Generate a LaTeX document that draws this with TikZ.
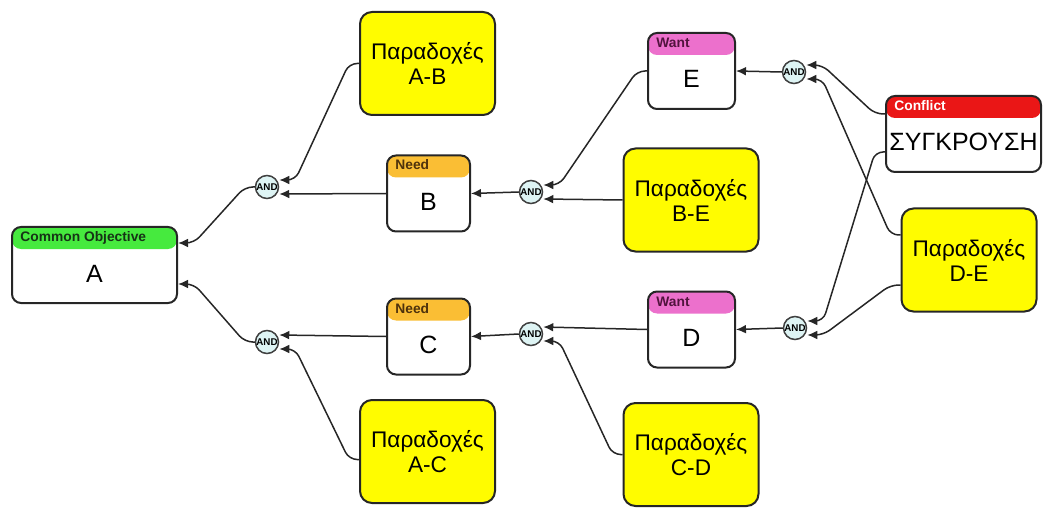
\documentclass[tikz,border=0pt]{standalone}
\usepackage{fontspec}
\setmainfont{Liberation Sans}
\usetikzlibrary{arrows.meta}
\definecolor{objgreen}{RGB}{70,234,62}
\definecolor{objtext}{RGB}{22,52,22}
\definecolor{needorange}{RGB}{250,190,52}
\definecolor{needtext}{RGB}{78,50,12}
\definecolor{wantpink}{RGB}{236,112,204}
\definecolor{wanttext}{RGB}{82,20,62}
\definecolor{conflictred}{RGB}{234,22,22}
\definecolor{premyellow}{RGB}{255,252,0}
\definecolor{gatecyan}{RGB}{222,244,244}
\tikzset{card/.style={draw=black!85,line width=1pt,rounded corners=4.5pt,fill=white,
  minimum height=38pt,text height=17pt,text depth=0pt,inner sep=0pt,
  font=\fontsize{12.5}{14}\selectfont},
  head/.style n args={3}{path picture={\fill[#1] (path picture bounding box.north west)
    rectangle ([yshift=-11pt]path picture bounding box.north east);},
    label={[headlabel,text=#2]north west:#3}},
  headlabel/.style={anchor=west,xshift=3.5pt,yshift=-5.5pt,inner sep=1pt,
    text height=5pt,text depth=0.5pt,font=\bfseries\fontsize{6.9}{7}\selectfont},
  premise/.style={draw=black!85,line width=1pt,rounded corners=6pt,fill=premyellow,
    minimum width=67.5pt,minimum height=51.5pt,align=center,
    font=\fontsize{11.3}{12.5}\selectfont},
  gate/.style={circle,draw=black!75,line width=0.75pt,fill=gatecyan,minimum size=11.5pt,
    inner sep=0pt,font=\bfseries\fontsize{4.9}{5}\selectfont},
  link/.style={draw=black!85,line width=0.75pt,rounded corners=4pt,
    -{Latex[length=5pt,width=4.4pt]}}}

\begin{document}
\begin{tikzpicture}[x=0.5pt,y=-0.5pt]
\useasboundingbox (0,0) rectangle (1043,513);
% entities
\node[card,head={objgreen}{objtext}{Common Objective},minimum width=82.5pt] (a) at (94.5,265) {A};
\node[card,head={needorange}{needtext}{Need},minimum width=41.5pt] (b) at (428.5,193.5) {B};
\node[card,head={needorange}{needtext}{Need},minimum width=41.5pt] (c) at (428.5,336.5) {C};
\node[card,head={wantpink}{wanttext}{Want},minimum width=43.5pt] (e) at (691.5,71) {E};
\node[card,head={wantpink}{wanttext}{Want},minimum width=43.5pt] (d) at (691.5,329.5) {D};
\node[card,head={conflictred}{white}{Conflict},minimum width=77.5pt] (conflict) at (963.5,134) {ΣΥΓΚΡΟΥΣΗ};
% assumptions
\node[premise] (ab) at (427.5,63.5) {Παραδοχές\\A-B};
\node[premise] (ac) at (427.5,451.5) {Παραδοχές\\A-C};
\node[premise] (be) at (691,200) {Παραδοχές\\B-E};
\node[premise] (cd) at (691,454.5) {Παραδοχές\\C-D};
\node[premise] (de) at (969,260) {Παραδοχές\\D-E};
% AND gates
\node[gate] (and1) at (267,187) {AND};
\node[gate] (and2) at (531,192) {AND};
\node[gate] (and3) at (794,72) {AND};
\node[gate] (and4) at (795,328) {AND};
\node[gate] (and5) at (531,334) {AND};
\node[gate] (and6) at (267,342) {AND};
% left half
\draw[link] (ab.west) -- ++(-5pt,0) -- ([xshift=8pt,yshift=3.5pt]and1.east) -- ([yshift=3.5pt]and1.east);
\draw[link] (b.west) -- ([yshift=-3.5pt]and1.east);
\draw[link] (and1.west) -- ++(-5pt,0) -- ([xshift=8pt,yshift=11pt]a.east) -- ([yshift=11pt]a.east);
\draw[link] (c.west) -- ([yshift=3.5pt]and6.east);
\draw[link] ([yshift=-4pt]ac.west) -- ++(-5pt,0) -- ([xshift=8pt,yshift=-3.5pt]and6.east) -- ([yshift=-3.5pt]and6.east);
\draw[link] (and6.west) -- ++(-5pt,0) -- ([xshift=8pt,yshift=-9.5pt]a.east) -- ([yshift=-9.5pt]a.east);
% middle
\draw[link] (e.west) -- ++(-5pt,0) -- ([xshift=8pt,yshift=3.5pt]and2.east) -- ([yshift=3.5pt]and2.east);
\draw[link] (be.west) -- ([yshift=-3.5pt]and2.east);
\draw[link] (and2.west) -- (b.east);
\draw[link] (d.west) -- ([yshift=3.5pt]and5.east);
\draw[link] (cd.west) -- ++(-5pt,0) -- ([xshift=8pt,yshift=-3.5pt]and5.east) -- ([yshift=-3.5pt]and5.east);
\draw[link] (and5.west) -- (c.east);
% right half
\draw[link] (and3.west) -- (e.east);
\draw[link] (and4.west) -- (d.east);
\draw[link] ([yshift=10pt]conflict.west) -- ++(-5pt,0) -- ([xshift=8pt,yshift=3.5pt]and3.east) -- ([yshift=3.5pt]and3.east);
\draw[link] ([yshift=12.5pt]de.west) -- ++(-5pt,0) -- ([xshift=8pt,yshift=-3.5pt]and3.east) -- ([yshift=-3.5pt]and3.east);
\draw[link] ([yshift=-9pt]conflict.west) -- ++(-5pt,0) -- ([xshift=8pt,yshift=3.5pt]and4.east) -- ([yshift=3.5pt]and4.east);
\draw[link] ([yshift=-12.5pt]de.west) -- ++(-5pt,0) -- ([xshift=8pt,yshift=-3.5pt]and4.east) -- ([yshift=-3.5pt]and4.east);
\end{tikzpicture}
\end{document}
